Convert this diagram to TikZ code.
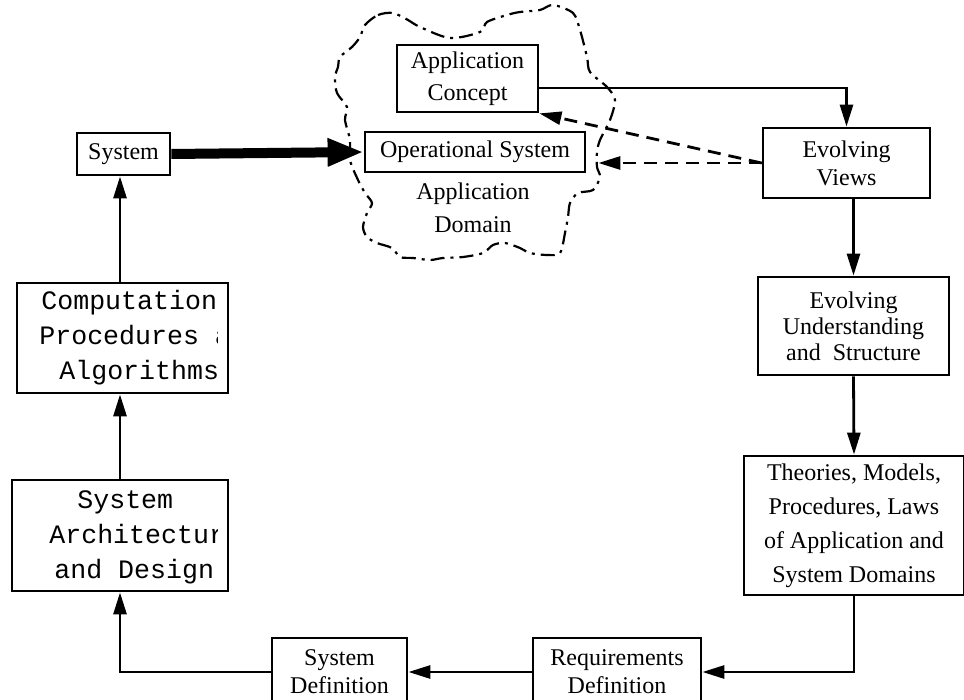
\documentclass[tikz,border=0pt]{standalone}
\usepackage{fontspec}
\setmainfont{Liberation Serif}
\newfontfamily\courier{Liberation Mono}
\usetikzlibrary{arrows.meta,calc}
\tikzstyle{bx} = [rectangle, draw, inner sep=0pt, align=center,
    font=\fontsize{12}{14}\selectfont]
\tikzstyle{cw} = [inner sep=0pt, align=left, anchor=west,
    font=\courier\fontsize{13.3}{17.5}\selectfont]
\tikzstyle{dsh} = [dash pattern=on 6.5pt off 4pt]
\tikzstyle{cloudline} = [dash pattern=on 7pt off 3pt on 1.5pt off 3pt, line width=1.1pt]

\begin{document}
\begin{tikzpicture}[x=0.5pt,y=-0.5pt,>={Triangle[length=11pt,width=6.5pt]},
                    line width=1.4pt]
  \useasboundingbox (0,0) rectangle (964,700);
  \clip (0,0) rectangle (964,700);

  % application domain cloud
  \draw[cloudline] plot[smooth cycle,tension=0.5] coordinates {
    (365,25) (378,15) (393,13) (408,20) (420,27) (450,38) (480,32) (487,22)
    (507,15) (520,12) (540,10) (553,5) (573,13) (580,30) (587,57) (590,72)
    (607,87) (615,100) (610,120) (600,140) (597,152) (597,167) (600,177)
    (593,190) (578,193) (570,203) (568,217) (565,233) (560,253) (547,255)
    (530,253) (520,248) (505,243) (493,245) (483,253) (463,257) (443,258)
    (430,260) (413,258) (400,257) (392,248) (377,243) (367,237) (363,227)
    (367,213) (372,203) (365,193) (358,180) (350,160) (350,140) (345,120)
    (347,107) (337,93) (335,77) (338,67) (340,57) (352,47) (360,37)};

  \node[bx, minimum width=46.5pt, minimum height=21pt]   (sys)    at (123.5,154) {System};
  \node[bx, minimum width=110pt, minimum height=20pt]    (opsys)  at (475,152)   {Operational System};
  \node[bx, minimum width=70.5pt, minimum height=33.5pt,
        font=\fontsize{12}{16}\selectfont]               (appcon) at (467.5,78.5) {Application\\Concept};
  \node[bx, draw=none, font=\fontsize{12}{16.5}\selectfont] (domain) at (473,208) {Application\\Domain};
  \node[bx, minimum width=83.5pt, minimum height=35pt]   (views)  at (846.5,163) {Evolving\\Views};
  \node[bx, minimum width=95.5pt, minimum height=49pt,
        font=\fontsize{12}{13}\selectfont]               (under)  at (853.5,326) {Evolving\\Understanding\\and\ \ Structure};
  \node[bx, minimum width=110pt, minimum height=69.5pt,
        font=\fontsize{12}{17}\selectfont]               (theo)   at (854,525.5) {Theories, Models,\\Procedures, Laws\\of Application and\\System Domains};
  \node[bx, minimum width=84pt, minimum height=34pt]     (req)    at (617,672)   {Requirements\\Definition};
  \node[bx, minimum width=67.5pt, minimum height=34pt]   (sdef)   at (339.5,672) {System\\Definition};

  \begin{scope}
    \clip (17,283) rectangle (217,393);
    \node[cw] (compt) at (38,338) {\hspace*{1pt}Computation\\Procedures a\\\hspace*{10pt}Algorithms};
  \end{scope}
  \begin{scope}
    \clip (12,480) rectangle (217,591);
    \node[cw] (archt) at (48,537) {\hspace*{14pt}System\\Architectur\\\hspace*{2.5pt}and Design};
  \end{scope}
  \node[bx, minimum width=105.5pt, minimum height=55pt]  (comp)   at (122.5,338) {};
  \node[bx, minimum width=108pt, minimum height=55.5pt]  (arch)   at (120,535.5) {};

  \draw[->] (arch.north) -- (arch.north |- comp.south);
  \draw[->] (comp.north -| arch.north) -- (arch.north |- sys.south);
  \draw[->] (sdef.west) -| (arch.south);
  \draw[->] (req.west) -- (sdef.east);
  \draw[->] (theo.south) |- (req.east);
  \draw[->] (under.south) -- (theo.north);
  \draw[->] (views.south -| under.north) -- (under.north);
  \draw[->] (appcon.east) ++(0,9.5) -| (views.north);
  \draw[->, dsh] (views.west) -- (appcon.south east);
  \draw[->, dsh, shorten >=6pt] (views.west) -- (views.west -| opsys.east);
  \draw[->, line width=5pt, >={Triangle[length=18pt,width=13pt]}] (sys.east) -- (opsys.west);
\end{tikzpicture}
\end{document}
